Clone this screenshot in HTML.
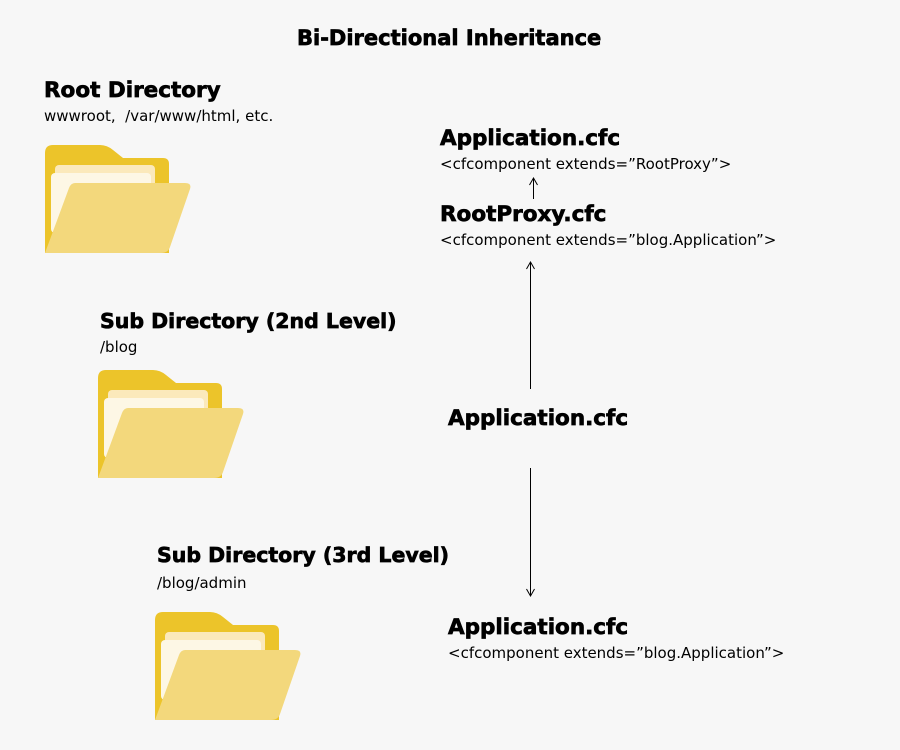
<!DOCTYPE html>
<html><head><style>
body{margin:0;width:900px;height:750px;background:#f7f7f7;position:relative;overflow:hidden;font-family:"DejaVu Sans",sans-serif;color:#000}
.t{position:absolute;white-space:nowrap}
.h{font-family:"DejaVu Sans",sans-serif;font-weight:bold;font-size:21.5px;-webkit-text-stroke:0.7px #000}
.s{font-size:15px}
svg{position:absolute;left:0;top:0}
</style></head><body>
<svg width="900" height="750">
<defs>
<g id="f">
<path d="M0,8 Q0,0 8,0 L55,0 Q62,0 68,5 L78,13 L118,13 Q124,13 124,19 L124,108 L0,108 Z" fill="#ecc42a"/>
<rect x="10" y="20" width="100" height="60" rx="4" fill="#fbe9bb"/>
<rect x="6" y="28" width="100" height="60" rx="4" fill="#fdf7e5"/>
<path d="M30,38 L140,38 Q147,38 145,44 L125,102 Q123,108 116,108 L0,108 L24,43 Q26,38 30,38 Z" fill="#f3d87c"/>
</g>
</defs>
<use href="#f" x="45" y="145"/>
<use href="#f" x="98" y="370"/>
<use href="#f" x="155" y="612"/>
<g stroke="#000" stroke-width="1" fill="none">
<line x1="533.5" y1="178" x2="533.5" y2="199"/>
<path d="M529.5,185 L533.5,178 L537.5,185"/>
<line x1="530.5" y1="262" x2="530.5" y2="389"/>
<path d="M526.5,269 L530.5,262 L534.5,269"/>
<line x1="530.5" y1="468" x2="530.5" y2="596"/>
<path d="M526.5,589 L530.5,596 L534.5,589"/>
</g>
</svg>
<div class="t h" style="left:297px;top:26px;font-size:21px">Bi-Directional Inheritance</div>
<div class="t h" style="left:44px;top:78px">Root Directory</div>
<div class="t s" style="left:44px;top:107px">wwwroot,&nbsp; /var/www/html, etc.</div>
<div class="t h" style="left:440px;top:126px">Application.cfc</div>
<div class="t s" style="left:440px;top:155px">&lt;cfcomponent extends=”RootProxy”&gt;</div>
<div class="t h" style="left:440px;top:202px">RootProxy.cfc</div>
<div class="t s" style="left:440px;top:231px">&lt;cfcomponent extends=”blog.Application”&gt;</div>
<div class="t h" style="left:100px;top:309px;font-size:20.5px">Sub Directory (2nd Level)</div>
<div class="t s" style="left:100px;top:338px">/blog</div>
<div class="t h" style="left:448px;top:406px">Application.cfc</div>
<div class="t h" style="left:157px;top:543px;font-size:20.5px">Sub Directory (3rd Level)</div>
<div class="t s" style="left:157px;top:574px">/blog/admin</div>
<div class="t h" style="left:448px;top:615px">Application.cfc</div>
<div class="t s" style="left:448px;top:644px">&lt;cfcomponent extends=”blog.Application”&gt;</div>
</body></html>
